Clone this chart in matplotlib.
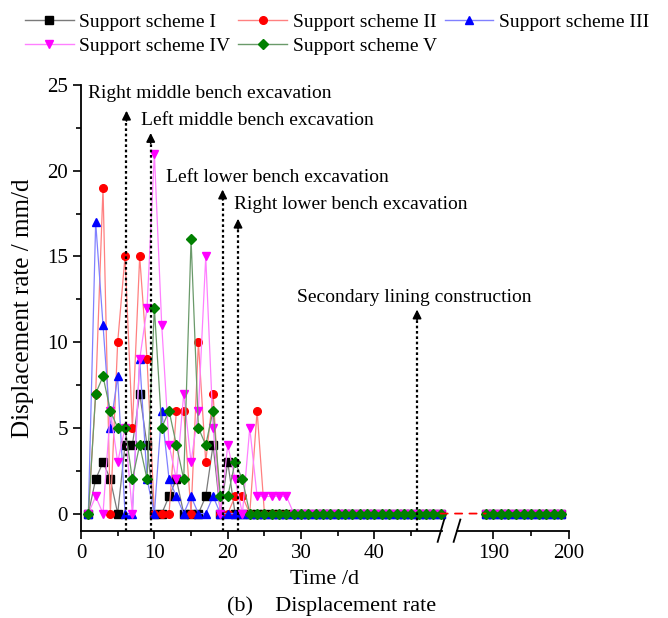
import matplotlib
matplotlib.use("Agg")
import matplotlib.pyplot as plt
from matplotlib.patches import ConnectionPatch
from matplotlib.lines import Line2D

plt.rcParams.update({"font.family": "Liberation Serif", "font.size": 14})

# --- data (displacement rate, mm/d) ---
days_a = list(range(1, 50))
days_b = list(range(189, 200))

scheme_1 = [0, 2, 3, 2, 0, 4, 4, 7, 4, 0, 0, 1, 2, 0, 0, 0, 1, 4, 0, 3,
            0, 0, 0, 0, 0, 0, 0, 0, 0, 0, 0, 0, 0, 0, 0, 0, 0, 0, 0, 0,
            0, 0, 0, 0, 0, 0, 0, 0, 0]
scheme_2 = [0, 7, 19, 0, 10, 15, 5, 15, 9, 0, 0, 0, 6, 6, 0, 10, 3, 7, 0, 0,
            1, 1, 0, 6, 0, 0, 0, 0, 0, 0, 0, 0, 0, 0, 0, 0, 0, 0, 0, 0,
            0, 0, 0, 0, 0, 0, 0, 0, 0]
scheme_3 = [0, 17, 11, 5, 8, 0, 0, 9, 2, 0, 6, 2, 1, 0, 1, 0, 0, 1, 0, 0,
            0, 0, 0, 0, 0, 0, 0, 0, 0, 0, 0, 0, 0, 0, 0, 0, 0, 0, 0, 0,
            0, 0, 0, 0, 0, 0, 0, 0, 0]
scheme_4 = [0, 1, 0, 6, 3, 5, 0, 9, 12, 21, 11, 4, 2, 7, 3, 6, 15, 5, 0, 4,
            2, 0, 5, 1, 1, 1, 1, 1, 0, 0, 0, 0, 0, 0, 0, 0, 0, 0, 0, 0,
            0, 0, 0, 0, 0, 0, 0, 0, 0]
scheme_5 = [0, 7, 8, 6, 5, 5, 2, 4, 2, 12, 5, 6, 4, 2, 16, 5, 4, 6, 1, 1,
            3, 2, 0, 0, 0, 0, 0, 0, 0, 0, 0, 0, 0, 0, 0, 0, 0, 0, 0, 0,
            0, 0, 0, 0, 0, 0, 0, 0, 0]
late_1 = [0, 0, 0, 0, 0, 0, 0, 0, 0, 0, 0]
late_2 = [0, 0, 0, 0, 0, 0, 0, 0, 0, 0, 0]
late_3 = [0, 0, 0, 0, 0, 0, 0, 0, 0, 0, 0]
late_4 = [0, 0, 0, 0, 0, 0, 0, 0, 0, 0, 0]
late_5 = [0, 0, 0, 0, 0, 0, 0, 0, 0, 0, 0]

labels = ["Support scheme I", "Support scheme II", "Support scheme III",
          "Support scheme IV", "Support scheme V"]
colors = ["#000000", "#ff0000", "#0000ff", "#ff00ff", "#008000"]
line_colors = ["#7a7a7a", "#ff8080", "#8080ff", "#ff80ff", "#6a9a6a"]
markers = ["s", "o", "^", "v", "D"]

# construction stages: (day, arrow tip, text x, text y, label)
stages = [
    (6.2, 23.5, 1.0, 24.5, "Right middle bench excavation"),
    (9.5, 22.2, 8.2, 22.9, "Left middle bench excavation"),
    (19.3, 18.9, 11.6, 19.6, "Left lower bench excavation"),
    (21.4, 17.2, 20.9, 18.0, "Right lower bench excavation"),
    (45.8, 11.9, 29.5, 12.6, "Secondary lining construction"),
]

fig = plt.figure(figsize=(6.68, 6.18), dpi=100)
bottom = 1 - 530.7 / 618
height = (530.7 - 85) / 618
ax1 = fig.add_axes([81 / 668, bottom, (442 - 81) / 668, height])
ax2 = fig.add_axes([457 / 668, bottom, (569 - 457) / 668, height])
ax2.patch.set_visible(False)

series_a = [scheme_1, scheme_2, scheme_3, scheme_4, scheme_5]
series_b = [late_1, late_2, late_3, late_4, late_5]
handles = []
for ya, yb, c, lc, m in zip(series_a, series_b, colors, line_colors, markers):
    ms = 5 if m == "D" else 5.5
    ax1.plot(days_a, ya, color=lc, lw=0.9)
    ax1.plot(days_a, ya, ls="none", marker=m, ms=ms, color=c, clip_on=False)
    ax2.plot(days_b, yb, color=lc, lw=0.9)
    ax2.plot(days_b, yb, ls="none", marker=m, ms=ms, color=c, clip_on=False)
    handles.append(Line2D([], [], color=lc, lw=1.0, marker=m, ms=ms,
                          mfc=c, mec=c))

# dashed connector across the axis break
con = ConnectionPatch(xyA=(days_a[-1], 0), coordsA=ax1.transData,
                      xyB=(days_b[0], 0), coordsB=ax2.transData,
                      color="#ff0000", lw=1.3, ls=(0, (4, 4)))
fig.add_artist(con)

for ax in (ax1, ax2):
    ax.set_ylim(-1, 25)
    ax.spines["top"].set_visible(False)
    ax.spines["right"].set_visible(False)
    ax.tick_params(direction="out", length=6, width=1.2, labelsize=15)
    ax.tick_params(which="minor", direction="out", length=3.5, width=1.2)
    for s in ax.spines.values():
        s.set_linewidth(1.3)

ax1.set_xlim(0, 49.2)
ax1.set_xticks([0, 10, 20, 30, 40])
ax1.set_xticks([5, 15, 25, 35, 45], minor=True)
ax1.set_yticks([0, 5, 10, 15, 20, 25])
ax1.set_yticks([2.5, 7.5, 12.5, 17.5, 22.5], minor=True)
ax1.set_ylabel("Displacement rate / mm/d", fontsize=18, labelpad=9)

ax2.set_xlim(185.2, 200)
ax2.set_xticks([190, 200])
ax2.set_xticks([195], minor=True)
ax2.spines["left"].set_visible(False)
ax2.tick_params(axis="y", which="both", left=False, labelleft=False)

# break marks
d = 0.025
kw = dict(color="k", lw=1.3, clip_on=False)
ax1.plot([1 - 0.012, 1 + 0.006], [-d, d], transform=ax1.transAxes, **kw)
ax2.plot([-0.03, 0.03], [-d, d], transform=ax2.transAxes, **kw)

for day, tip, tx, ty, text in stages:
    ax1.plot([day, day], [-1, tip - 0.4], color="k", lw=1.6,
             ls=(0, (1.2, 1.2)), clip_on=False)
    ax1.annotate("", xy=(day, tip), xytext=(day, tip - 0.6),
                 arrowprops=dict(arrowstyle="-|>", color="k", lw=1.2,
                                 mutation_scale=13, shrinkA=0, shrinkB=0))
    ax1.text(tx, ty, text, fontsize=14, ha="left", va="center", zorder=10)

order = [0, 3, 1, 4, 2]
fig.legend([handles[i] for i in order], [labels[i] for i in order],
           loc="upper left", bbox_to_anchor=(0.02, 0.997), ncol=3,
           frameon=False, fontsize=14, handlelength=2.5, handletextpad=0.3,
           columnspacing=0.4, labelspacing=0.3, borderaxespad=0.2)

fig.text(325 / 668, 1 - 579 / 618, "Time /d", ha="center", va="center",
         fontsize=16)
fig.text(332 / 668, 1 - 606 / 618, "(b)\u2003Displacement rate",
         ha="center", va="center", fontsize=16)

fig.savefig("out.png", dpi=100)
